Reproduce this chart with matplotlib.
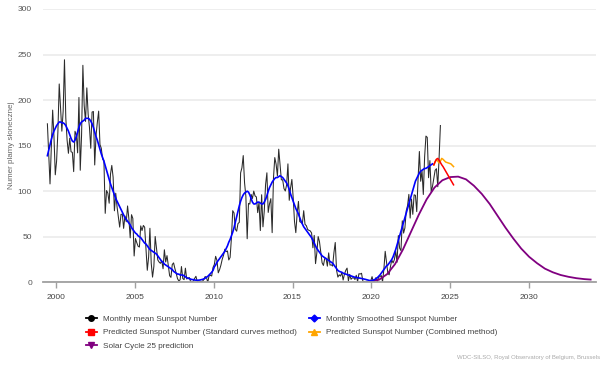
import numpy as np
import matplotlib
matplotlib.use("Agg")
import matplotlib.pyplot as plt
from matplotlib.lines import Line2D

plt.rcParams['font.family'] = ['Liberation Sans', 'DejaVu Sans']

# monthly mean sunspot number, Jun 1999 .. May 2024
mean_start = 1999 + 5.5 / 12
monthly_mean = [
    174, 140, 108, 150, 189, 160, 118,  # 1999 Jun-Dec
    133.1, 165.7, 217.7, 191.5, 165.9, 188.0, 244.3, 180.5, 156.0, 141.6, 158.1, 143.3,  # 2000
    142.6, 121.5, 165.8, 161.7, 142.1, 202.9, 123.0, 161.5, 238.2, 194.1, 176.6, 213.4,  # 2001
    184.6, 170.2, 147.1, 186.9, 187.5, 128.8, 161.0, 175.6, 187.9, 151.2, 147.2, 135.3,  # 2002
    133.5, 75.7, 100.7, 97.9, 86.8, 118.7, 128.3, 115.4, 78.5, 97.8, 82.9, 72.2,  # 2003
    60.6, 74.6, 74.8, 59.2, 72.8, 66.5, 83.8, 69.7, 48.8, 74.2, 70.1, 28.9,  # 2004
    48.1, 43.5, 39.6, 38.7, 61.9, 56.8, 62.4, 60.5, 37.2, 13.2, 27.5, 59.3,  # 2005
    20.9, 5.7, 17.3, 50.3, 37.2, 24.5, 22.2, 20.8, 23.7, 14.9, 35.7, 22.3,  # 2006
    29.3, 18.4, 7.2, 5.4, 19.5, 21.3, 15.1, 9.8, 4.0, 1.5, 2.8, 17.3,  # 2007
    4.1, 2.9, 15.5, 3.6, 4.6, 5.2, 0.6, 0.3, 1.2, 4.2, 6.6, 1.0,  # 2008
    1.3, 1.2, 0.6, 1.2, 2.9, 6.3, 5.5, 0.0, 7.1, 7.7, 6.9, 16.3,  # 2009
    19.5, 28.5, 24.0, 10.4, 13.9, 18.8, 25.2, 29.6, 36.4, 33.6, 34.4, 24.5,  # 2010
    27.3, 48.3, 78.6, 76.1, 58.2, 56.1, 64.5, 65.8, 120.1, 125.7, 139.1, 109.3,  # 2011
    94.4, 47.8, 86.6, 85.9, 96.5, 92.0, 100.1, 94.8, 93.7, 76.5, 87.6, 56.8,  # 2012
    96.1, 60.9, 78.3, 107.3, 120.2, 76.7, 86.2, 91.8, 54.5, 114.4, 136.9, 129.7,  # 2013
    116.7, 146.1, 128.7, 112.5, 112.5, 102.9, 100.2, 106.9, 130.0, 90.0, 103.6, 112.9,  # 2014
    93.0, 66.7, 54.5, 75.3, 88.8, 66.5, 65.8, 64.4, 78.6, 63.6, 62.2, 58.0,  # 2015
    57.0, 56.4, 54.1, 37.9, 51.5, 20.5, 32.4, 50.2, 44.6, 33.4, 21.4, 18.5,  # 2016
    26.1, 26.4, 17.7, 32.3, 18.9, 19.2, 17.8, 32.6, 43.7, 13.2, 5.7, 8.2,  # 2017
    6.8, 10.7, 2.5, 8.9, 13.1, 15.6, 1.6, 8.7, 3.3, 4.9, 4.9, 3.1,  # 2018
    7.7, 0.8, 9.4, 9.1, 9.9, 1.2, 0.9, 0.5, 1.1, 0.4, 0.5, 1.5,  # 2019
    6.2, 0.2, 1.5, 5.2, 0.2, 5.8, 6.1, 7.5, 0.6, 14.4, 34.0, 21.8,  # 2020
    10.4, 8.2, 17.2, 24.5, 21.2, 25.0, 34.3, 22.0, 51.3, 37.4, 34.8, 67.5,  # 2021
    54.0, 59.7, 78.5, 84.1, 96.5, 70.5, 91.4, 74.6, 96.0, 95.5, 77.6, 113.1,  # 2022
    143.6, 110.9, 122.6, 96.4, 137.9, 160.5, 159.1, 114.8, 133.6, 99.4, 105.4, 114.2,  # 2023
    123.0, 124.7, 104.9, 136.5, 172.1,  # 2024 Jan-May
]

# 13-month smoothed, Jun 1999 .. Nov 2023
smoothed = [
    139, 145, 151, 157, 162, 166, 169,  # 1999 Jun-Dec
    172, 174, 176, 176, 175, 175, 174, 172, 169, 166, 162, 158,  # 2000
    155, 154, 156, 160, 165, 170, 174, 176, 177, 178, 180, 180,  # 2001
    180, 179, 177, 174, 170, 165, 160, 156, 151, 146, 141, 137,  # 2002
    133, 128, 123, 118, 113, 108, 104, 100, 96, 92, 89, 86,  # 2003
    83, 80, 77, 74, 71, 69, 67, 65, 63, 60, 58, 56,  # 2004
    54, 53, 51, 50, 49, 47, 45, 43, 42, 40, 38, 36,  # 2005
    35, 34, 33, 32, 31, 29, 27, 25, 23, 22, 20, 19,  # 2006
    18, 17, 16, 15, 14, 12, 11, 10, 9, 9, 8, 8,  # 2007
    8, 7, 6, 5, 4.5, 4, 3.5, 3, 3, 2.5, 2.3, 2.2,  # 2008
    2.3, 2.5, 2.8, 3.2, 3.7, 4.5, 5.5, 6.5, 8, 9.5, 11, 13,  # 2009
    17, 19, 22, 24, 26, 28, 30, 32, 34, 37, 40, 44,  # 2010
    47, 51, 55, 60, 66, 72, 78, 84, 89, 93, 96, 98,  # 2011
    99, 100, 99, 96, 92, 88, 86, 86, 87, 88, 88, 87,  # 2012
    86, 86, 88, 91, 95, 100, 104, 107, 110, 112, 114, 115,  # 2013
    115, 116, 117, 116, 115, 113, 111, 109, 106, 102, 97, 93,  # 2014
    89, 85, 81, 78, 75, 71, 67, 64, 61, 59, 57, 55,  # 2015
    53, 51, 49, 46, 43, 40, 37, 35, 33, 31, 29, 28,  # 2016
    27, 26, 25, 24, 23, 22, 21, 19, 17, 15, 13, 12,  # 2017
    11.5, 11, 10, 9.5, 9, 8.5, 8, 7.5, 7, 6.5, 6, 5.5,  # 2018
    5.3, 5, 4.8, 4.5, 4.2, 4, 3.6, 3.2, 2.8, 2.3, 2, 1.8,  # 2019
    2, 2.5, 3, 4, 5, 6.5, 8, 10, 12, 14, 16, 18,  # 2020
    19, 21, 23, 25, 28, 32, 36, 41, 46, 51, 56, 61,  # 2021
    66, 71, 76, 81, 86, 91, 96, 101, 106, 111, 114, 117,  # 2022
    120, 122, 123, 124, 125, 125, 126, 127, 128, 129, 130,  # 2023 Jan-Nov
]

# predictions, Dec 2023 .. Mar 2025
pred_start = 2023 + 11.5 / 12
pred_standard = [129, 132.5, 135, 136, 134, 131.5, 129, 127, 124.5, 122, 119.5, 117, 114.5, 112, 109.5, 107]
pred_combined = [128.7, 132, 135, 133, 131, 133, 136, 135, 133.5, 132, 131.5, 131, 130.5, 130, 128.5, 127]

# solar cycle 25 prediction curve
c25_years = [2019.9, 2020.5, 2021.0, 2021.5, 2022.0, 2022.5, 2023.0, 2023.5, 2024.0, 2024.5,
             2025.0, 2025.5, 2026.0, 2026.5, 2027.0, 2027.5, 2028.0, 2028.5, 2029.0, 2029.5,
             2030.0, 2030.5, 2031.0, 2031.5, 2032.0, 2032.5, 2033.0, 2033.5, 2033.9]
c25_values = [0.5, 3, 9, 20, 36, 55, 74, 91, 104, 112,
              115.5, 116, 113, 106, 97, 86, 73, 60, 48, 37,
              28, 21, 15, 11, 8, 6, 4.5, 3.5, 3]

x_ticks = [2000, 2005, 2010, 2015, 2020, 2025, 2030]
y_ticks = [0, 50, 100, 150, 200, 250, 300]

t_mean = mean_start + np.arange(len(monthly_mean)) / 12
t_smooth = mean_start + np.arange(len(smoothed)) / 12
t_pred = pred_start + np.arange(len(pred_standard)) / 12

fig = plt.figure(figsize=(6.05, 3.67), dpi=100)
ax = fig.add_axes([43 / 605, 1 - 282.3 / 367, 553 / 605, 273.3 / 367])

ax.plot(t_mean, monthly_mean, color='#2a2a2a', lw=0.75)
ax.plot(c25_years, c25_values, color='#800080', lw=1.3)
ax.plot(t_smooth, smoothed, color='#0000ff', lw=1.2)
ax.plot(t_pred, pred_combined, color='#ffa500', lw=1.1)
ax.plot(t_pred, pred_standard, color='#ff0000', lw=1.1)

ax.set_xlim(1999.18, 2034.24)
ax.set_ylim(0, 300)
ax.set_xticks(x_ticks)
ax.set_yticks(y_ticks)
ax.grid(axis='y', color='#ebebeb', lw=1.2)
ax.set_axisbelow(True)
for s in ['top', 'right', 'left']:
    ax.spines[s].set_visible(False)
ax.spines['bottom'].set_color('#a0a0a0')
ax.spines['bottom'].set_linewidth(1.3)
ax.tick_params(axis='x', colors='#a0a0a0', length=4, width=1, labelsize=6, labelcolor='#444444', pad=4.5)
ax.tick_params(axis='y', length=0, labelsize=6, labelcolor='#555555', pad=8)

fig.text(12 / 605, 1 - 145 / 367, 'Numer plamy słonecznej', rotation=90,
         ha='center', va='center', fontsize=5.8, color='#666666')

handles = [
    Line2D([], [], color='black', marker='o', ms=4, lw=1.3),
    Line2D([], [], color='#ff0000', marker='s', ms=4, lw=1.3),
    Line2D([], [], color='#800080', marker='v', ms=4, lw=1.3),
    Line2D([], [], color='#0000ff', marker='D', ms=3.5, lw=1.3),
    Line2D([], [], color='#ffa500', marker='^', ms=4, lw=1.3),
]
labels = [
    'Monthly mean Sunspot Number',
    'Predicted Sunspot Number (Standard curves method)',
    'Solar Cycle 25 prediction',
    'Monthly Smoothed Sunspot Number',
    'Predicted Sunspot Number (Combined method)',
]
leg = fig.legend(handles, labels, ncol=2, loc='upper left', bbox_to_anchor=(86 / 605, 1 - 315 / 367),
                 frameon=False, fontsize=5.85, handlelength=1.3, handletextpad=0.8,
                 columnspacing=1.5, labelspacing=0.75, borderaxespad=0, borderpad=0)
for t in leg.get_texts():
    t.set_color('#444444')

fig.text(600 / 605, 1 - 358 / 367, 'WDC-SILSO, Royal Observatory of Belgium, Brussels',
         ha='right', va='center', fontsize=4.3, color='#aaaaaa')

fig.savefig('out.png', dpi=100)
